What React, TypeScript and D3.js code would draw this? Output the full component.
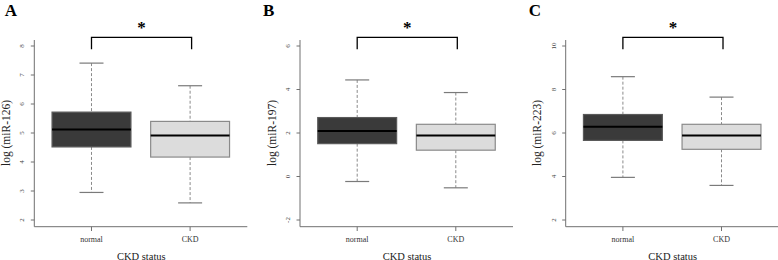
import React from "react";
import * as d3 from "d3";

const groups = ["normal", "CKD"];
const panelLetters = ["A", "B", "C"];
const yTitles = ["log (miR-126)", "log (miR-197)", "log (miR-223)"];
const yTicksA = [2, 3, 4, 5, 6, 7, 8];
const yTicksB = [-2, 0, 2, 4, 6];
const yTicksC = [2, 4, 6, 8, 10];
// [lowWhisker, q1, median, q3, highWhisker]
const normalA = [2.95, 4.52, 5.12, 5.72, 7.41];
const ckdA = [2.59, 4.17, 4.91, 5.40, 6.63];
const normalB = [-0.23, 1.51, 2.09, 2.71, 4.44];
const ckdB = [-0.52, 1.21, 1.89, 2.40, 3.86];
const normalC = [3.96, 5.66, 6.29, 6.85, 8.59];
const ckdC = [3.59, 5.25, 5.88, 6.40, 7.65];
const significance = ["*", "*", "*"];

const panels = [
  { ticks: yTicksA, stats: [normalA, ckdA] },
  { ticks: yTicksB, stats: [normalB, ckdB] },
  { ticks: yTicksC, stats: [normalC, ckdC] },
];

const W = 778;
const H = 260;
const FONT = "'Liberation Serif', 'DejaVu Serif', serif";
const fills = ["#3a3a3a", "#dcdcdc"];
const strokes = ["#5a5a5a", "#8a8a8a"];

function Panel({ i }: { i: number }) {
  const p = panels[i];
  const ox = 34.3 + i * 265.7;
  const x = d3.scaleLinear().domain([0.42, 2.58]).range([0, 213]);
  const y = d3
    .scaleLinear()
    .domain([d3.min(p.ticks)!, d3.max(p.ticks)!])
    .range([220, 46]);
  const bw = x(1.4) - x(1);
  const cap = 12;
  const letterX = i === 0 ? -29.5 : -37;
  return (
    <g transform={`translate(${ox},0)`}>
      <text
        x={letterX}
        y={16}
        fontFamily={FONT}
        fontWeight="bold"
        fontSize={17}
        fill="#000"
      >
        {panelLetters[i]}
      </text>
      {/* axes */}
      <line x1={0} x2={0} y1={40} y2={226.7} stroke="#707070" strokeWidth={1} />
      <line x1={0} x2={213} y1={226.7} y2={226.7} stroke="#707070" strokeWidth={1} />
      {p.ticks.map((t) => (
        <g key={t}>
          <line x1={-3.5} x2={0} y1={y(t)} y2={y(t)} stroke="#707070" />
          <text
            transform={`translate(-12,${y(t)}) rotate(-90)`}
            textAnchor="middle"
            dominantBaseline="central"
            fontFamily={FONT}
            fontSize={7}
            fill="#444"
          >
            {t}
          </text>
        </g>
      ))}
      {groups.map((g, k) => (
        <g key={g}>
          <line x1={x(k + 1)} x2={x(k + 1)} y1={226.7} y2={231} stroke="#707070" />
          <text
            x={x(k + 1)}
            y={239.5}
            textAnchor="middle"
            dominantBaseline="central"
            fontFamily={FONT}
            fontSize={8}
            fill="#333"
          >
            {g}
          </text>
        </g>
      ))}
      <text
        x={107}
        y={256}
        textAnchor="middle"
        dominantBaseline="central"
        fontFamily={FONT}
        fontSize={10.5}
        fill="#222"
      >
        CKD status
      </text>
      <text
        transform={`translate(-28.3,${y((d3.min(p.ticks)! + d3.max(p.ticks)!) / 2)}) rotate(-90)`}
        textAnchor="middle"
        dominantBaseline="central"
        fontFamily={FONT}
        fontSize={11.5}
        fill="#222"
      >
        {yTitles[i]}
      </text>
      {/* boxes */}
      {p.stats.map((s, k) => {
        const cx = x(k + 1);
        return (
          <g key={k}>
            <line
              x1={cx}
              x2={cx}
              y1={y(s[4])}
              y2={y(s[3])}
              stroke="#8a8a8a"
              strokeDasharray="3,2"
            />
            <line
              x1={cx}
              x2={cx}
              y1={y(s[1])}
              y2={y(s[0])}
              stroke="#8a8a8a"
              strokeDasharray="3,2"
            />
            <line x1={cx - cap} x2={cx + cap} y1={y(s[4])} y2={y(s[4])} stroke="#7a7a7a" strokeWidth={1.2} />
            <line x1={cx - cap} x2={cx + cap} y1={y(s[0])} y2={y(s[0])} stroke="#7a7a7a" strokeWidth={1.2} />
            <rect
              x={cx - bw}
              y={y(s[3])}
              width={2 * bw}
              height={y(s[1]) - y(s[3])}
              fill={fills[k]}
              stroke={strokes[k]}
              strokeWidth={1.2}
            />
            <line
              x1={cx - bw}
              x2={cx + bw}
              y1={y(s[2])}
              y2={y(s[2])}
              stroke="#000"
              strokeWidth={2}
            />
          </g>
        );
      })}
      {/* significance bracket */}
      <path
        d={`M${x(1)},49.3 V37.3 H${x(2) + 1.5} V49.3`}
        fill="none"
        stroke="#000"
        strokeWidth={1.3}
      />
      <text
        x={(x(1) + x(2)) / 2 + 0.7}
        y={33}
        textAnchor="middle"
        fontFamily={FONT}
        fontWeight="bold"
        fontSize={17}
        fill="#000"
      >
        {significance[i]}
      </text>
    </g>
  );
}

export default function App() {
  return (
    <svg
      width={W}
      height={H}
      viewBox={`0 0 ${W} ${H}`}
      style={{ position: "absolute", left: 0, top: 0, background: "#fff" }}
    >
      <rect width={W} height={H} fill="#fff" />
      {panels.map((_, i) => (
        <Panel key={i} i={i} />
      ))}
    </svg>
  );
}
